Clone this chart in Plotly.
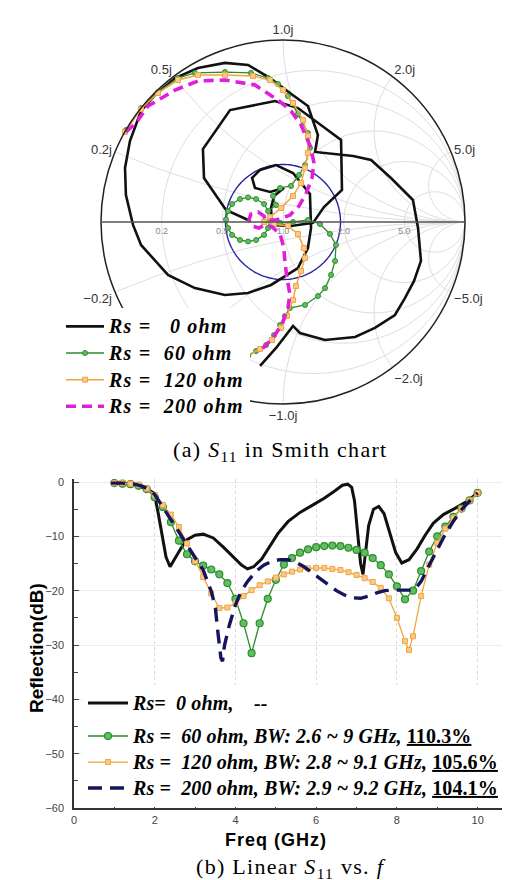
import numpy as np
import plotly.graph_objects as go

# ---------------- Smith chart data: reflection coefficient (Re, Im) ----------------
rs0_gr = [-0.126, -0.038, 0.055, 0.093, 0.231, 0.396, 0.505, 0.615, 0.670, 0.720, 0.758, 0.742, 0.714,
          0.593, 0.484, 0.385, 0.176, 0.192, 0.137, 0.038, -0.071, -0.192, -0.319, -0.467, -0.593,
          -0.703, -0.780, -0.841, -0.868, -0.863, -0.824, -0.780, -0.632, -0.484, -0.319, -0.192,
          -0.066, 0.082, 0.137, 0.154, 0.148, 0.055, -0.038, -0.126, -0.170, -0.154, -0.071, 0.005,
          -0.049, -0.066, -0.060, 0.044, 0.165, 0.225, 0.324, 0.319, 0.082, -0.044, -0.291, -0.440,
          -0.434, -0.313, -0.192]
rs0_gi = [-0.791, -0.692, -0.571, -0.610, -0.648, -0.632, -0.582, -0.511, -0.418, -0.324, -0.214, -0.033,
          0.121, 0.242, 0.341, 0.363, 0.385, 0.478, 0.637, 0.709, 0.791, 0.863, 0.874, 0.846, 0.791,
          0.698, 0.610, 0.445, 0.297, 0.148, -0.016, -0.126, -0.291, -0.363, -0.401, -0.390, -0.346,
          -0.253, -0.143, -0.033, 0.154, 0.269, 0.313, 0.286, 0.242, 0.187, 0.165, 0.187, 0.143,
          0.077, -0.016, -0.022, -0.005, 0.082, 0.176, 0.451, 0.626, 0.665, 0.615, 0.401, 0.242,
          0.066, 0.011]

rs60_gr = [-0.863, -0.780, -0.687, -0.577, -0.484, -0.319, -0.176, -0.082, -0.027, 0.027, 0.082, 0.137,
           0.148, 0.121, 0.088, 0.044, -0.016, -0.055, -0.038,
           -0.082, -0.104, -0.148, -0.192, -0.236, -0.280, -0.302, -0.313, -0.302, -0.280, -0.236,
           -0.192, -0.148, -0.104, -0.082, -0.071,
           -0.016, 0.055, 0.137, 0.203, 0.258, 0.291, 0.286, 0.264, 0.231, 0.192, 0.121, 0.038, 0.011,
           -0.016, -0.049, -0.093, -0.148, -0.192]
rs60_gi = [0.505, 0.626, 0.714, 0.791, 0.819, 0.824, 0.819, 0.791, 0.758, 0.692, 0.593, 0.489,
           0.407, 0.313, 0.258, 0.198, 0.187, 0.143, 0.093,
           0.060, 0.099, 0.126, 0.135, 0.126, 0.099, 0.060, 0.014, -0.033, -0.071, -0.099,
           -0.107, -0.099, -0.071, -0.033, 0.014,
           -0.005, 0.000, 0.011, -0.011, -0.066, -0.126, -0.214, -0.291, -0.363, -0.407, -0.456, -0.473,
           -0.516, -0.566, -0.621, -0.676, -0.709, -0.736]

rs120_gr = [-0.868, -0.780, -0.687, -0.577, -0.467, -0.319, -0.165, -0.071, 0.000, 0.055, 0.110, 0.137,
            0.137, 0.121, 0.099, 0.055, -0.011, -0.071, -0.104, -0.049, 0.027, 0.082, 0.115, 0.121,
            0.099, 0.071, 0.055, 0.022, -0.011, -0.060, -0.126, -0.203]
rs120_gi = [0.495, 0.621, 0.709, 0.780, 0.808, 0.808, 0.802, 0.780, 0.725, 0.654, 0.560, 0.473,
            0.379, 0.297, 0.214, 0.143, 0.077, 0.027, 0.000, -0.011, -0.022, -0.066, -0.143, -0.198,
            -0.269, -0.352, -0.429, -0.516, -0.582, -0.648, -0.698, -0.736]

rs200_gr = [-0.863, -0.808, -0.742, -0.593, -0.467, -0.319, -0.154, -0.027, 0.044, 0.099, 0.154, 0.170,
            0.159, 0.126, 0.088, 0.038, -0.038, -0.099, -0.104, -0.137, -0.176, -0.187, -0.170, -0.132,
            -0.099, -0.060, -0.016, 0.005, 0.011, 0.022, 0.038, 0.027, -0.005, -0.055, -0.126]
rs200_gi = [0.495, 0.544, 0.637, 0.725, 0.775, 0.780, 0.753, 0.670, 0.610, 0.533, 0.407, 0.324,
            0.242, 0.154, 0.088, 0.038, 0.011, 0.011, 0.033, 0.055, 0.044, 0.011, -0.022, -0.033,
            -0.016, -0.027, -0.066, -0.143, -0.225, -0.308, -0.396, -0.473, -0.560, -0.637, -0.709]

minus10db_gamma = 0.316   # |Γ| of the -10 dB circle drawn in blue

smith_real_ticks = [0.2, 0.5, 1.0, 2.0, 5.0]
smith_imag_ticks = [-5.0, -2.0, -1.0, -0.5, -0.2, 0.2, 0.5, 1.0, 2.0, 5.0]

# ---------------- Linear S11 data (GHz, dB) ----------------
f_rs0 = [0.95, 1.2, 1.5, 1.7, 1.85, 1.95, 2.0, 2.08, 2.18, 2.28, 2.38, 2.5, 2.65, 2.8, 3.0, 3.2, 3.45,
         3.7, 3.95, 4.15, 4.3, 4.45, 4.65, 4.85, 5.05, 5.3, 5.6, 5.9, 6.2, 6.45, 6.65, 6.78, 6.88, 6.95,
         7.02, 7.1, 7.16, 7.22, 7.3, 7.42, 7.55, 7.68, 7.82, 7.97, 8.12, 8.3, 8.5, 8.7, 8.9, 9.15, 9.45,
         9.75, 10.0]
s_rs0 = [-0.2, -0.2, -0.5, -1.0, -1.5, -1.9, -2.5, -5.5, -10.0, -13.8, -15.6, -14.0, -12.2, -10.6, -9.8,
         -9.6, -10.3, -12.0, -13.8, -15.3, -16.0, -15.6, -14.2, -11.8, -9.5, -7.3, -5.6, -4.3, -3.0, -1.7,
         -0.6, -0.4, -1.0, -3.5, -9.0, -15.0, -17.0, -13.0, -8.0, -5.0, -4.5, -5.8, -9.2, -13.0, -14.9,
         -14.3, -12.3, -9.8, -7.6, -6.0, -4.8, -3.5, -2.0]

f_rs60 = [1.0, 1.2, 1.4, 1.6, 1.8, 2.0, 2.2, 2.4, 2.6, 2.8, 3.0, 3.2, 3.4, 3.6, 3.8, 4.0, 4.2, 4.4, 4.6,
          4.8, 5.0, 5.2, 5.4, 5.6, 5.8, 6.0, 6.2, 6.4, 6.6, 6.8, 7.0, 7.2, 7.4, 7.6, 7.8, 8.0, 8.2, 8.4,
          8.6, 8.8, 9.0, 9.2, 9.4, 9.6, 9.8, 10.0]
s_rs60 = [-0.2, -0.3, -0.4, -0.7, -1.3, -2.8, -4.6, -7.4, -10.8, -13.3, -14.6, -15.4, -16.1, -17.0, -18.6,
          -21.5, -26.0, -31.5, -26.0, -21.5, -18.0, -15.2, -14.0, -13.0, -12.4, -12.0, -11.8, -11.7,
          -11.8, -12.1, -12.5, -13.0, -14.0, -15.3, -17.0, -19.2, -21.6, -20.0, -16.4, -12.8, -10.0, -8.2,
          -6.4, -4.9, -3.4, -2.0]

f_rs120 = [1.0, 1.2, 1.4, 1.6, 1.8, 2.0, 2.2, 2.4, 2.6, 2.8, 3.0, 3.2, 3.4, 3.6, 3.8, 4.0, 4.2, 4.4, 4.6,
           4.8, 5.0, 5.2, 5.4, 5.6, 5.8, 6.0, 6.2, 6.4, 6.6, 6.8, 7.0, 7.2, 7.4, 7.6, 7.8, 8.0, 8.2, 8.3,
           8.4, 8.6, 8.8, 9.0, 9.2, 9.4, 9.6, 9.8, 10.0]
s_rs120 = [-0.2, -0.2, -0.3, -0.5, -1.2, -2.4, -4.2, -6.0, -8.3, -11.3, -14.6, -17.5, -20.5, -23.2, -23.1,
           -22.3, -21.0, -19.9, -19.0, -18.3, -17.6, -17.0, -16.5, -16.1, -15.9, -15.8, -15.8, -16.0,
           -16.2, -16.6, -17.1, -17.7, -18.4, -19.5, -21.4, -25.0, -29.3, -30.9, -28.4, -21.0, -15.2,
           -11.2, -8.6, -6.6, -4.9, -3.4, -2.0]

f_rs200 = [0.92, 1.2, 1.5, 1.7, 1.9, 2.0, 2.2, 2.4, 2.6, 2.8, 3.0, 3.2, 3.4, 3.5, 3.57, 3.64, 3.68, 3.73,
           3.85, 4.0, 4.15, 4.3, 4.5, 4.7, 4.9, 5.1, 5.3, 5.5, 5.7, 5.9, 6.1, 6.3, 6.5, 6.7, 6.9, 7.1,
           7.3, 7.5, 7.7, 7.9, 8.1, 8.3, 8.45, 8.6, 8.8, 9.0, 9.2, 9.4, 9.6, 9.8, 10.0]
s_rs200 = [-0.2, -0.2, -0.4, -0.8, -1.6, -2.3, -4.6, -6.8, -9.2, -11.6, -13.8, -16.2, -20.1, -23.0, -28.0,
           -32.4, -33.0, -30.0, -26.3, -22.6, -20.0, -18.3, -16.5, -15.3, -14.6, -14.3, -14.3, -14.8,
           -15.6, -16.7, -17.9, -19.0, -20.0, -20.8, -21.3, -21.4, -21.0, -20.4, -20.0, -19.9, -19.9,
           -19.9, -19.7, -18.3, -15.3, -12.3, -9.6, -7.2, -5.1, -3.5, -2.0]

# ---------------- styling ----------------
BLACK = "#111111"
GREEN = "#2e8b2e"
GREEN_FILL = "#5fbf5f"
ORANGE = "#f0a540"
ORANGE_FILL = "#f8c98a"
MAGENTA = "#e020d8"
NAVY = "#15155f"
BLUE = "#2323a0"
SERIF = "Liberation Serif"
SANS = "Liberation Sans"


def to_z(gr, gi):
    g = np.array(gr) + 1j * np.array(gi)
    z = (1 + g) / (1 - g)
    return z.real, z.imag


def legend_text(body, size, spacing):
    return (f'<span style="font-size:{size}px;letter-spacing:{spacing}px">'
            f'<b><i>{body}</i></b></span>')


fig = go.Figure()

# -10 dB circle
theta = np.linspace(0, 2 * np.pi, 181)
zr, zi = to_z(minus10db_gamma * np.cos(theta), minus10db_gamma * np.sin(theta))
fig.add_trace(go.Scattersmith(real=zr, imag=zi, mode="lines", line=dict(color=BLUE, width=1.4),
                              showlegend=False, hoverinfo="skip"))

sp = "\u00a0"
smith_series = [
    (rs0_gr, rs0_gi, f"Rs{sp}={sp}{sp}{sp}0 ohm", dict(mode="lines", line=dict(color=BLACK, width=2.6))),
    (rs60_gr, rs60_gi, f"Rs{sp}={sp}{sp}60 ohm",
     dict(mode="lines+markers", line=dict(color=GREEN, width=1.3),
          marker=dict(symbol="circle", size=5, color=GREEN_FILL, line=dict(color=GREEN, width=1)))),
    (rs120_gr, rs120_gi, f"Rs{sp}={sp}{sp}120 ohm",
     dict(mode="lines+markers", line=dict(color=ORANGE, width=1.5),
          marker=dict(symbol="square", size=5, color=ORANGE_FILL, line=dict(color=ORANGE, width=1)))),
    (rs200_gr, rs200_gi, f"Rs{sp}={sp}{sp}200 ohm",
     dict(mode="lines", line=dict(color=MAGENTA, width=3.6, dash="10px,6px"))),
]
for gr, gi, name, style in smith_series:
    zr, zi = to_z(gr, gi)
    fig.add_trace(go.Scattersmith(real=zr, imag=zi, name=legend_text(name, 20, 1.2),
                                  legend="legend", hoverinfo="skip", **style))

# linear plot
lin_series = [
    (f_rs0, s_rs0, f"Rs={sp}{sp}0 ohm,{sp}{sp}{sp}{sp}--", "g0",
     dict(mode="lines", line=dict(color=BLACK, width=3))),
    (f_rs60, s_rs60, f"Rs{sp}={sp}{sp}60 ohm, BW: 2.6 ~ 9 GHz, </i><u>110.3%</u><i>", "g1",
     dict(mode="lines+markers", line=dict(color=GREEN, width=1.3),
          marker=dict(symbol="circle", size=7, color=GREEN_FILL, line=dict(color=GREEN, width=1.2)))),
    (f_rs120, s_rs120, f"Rs{sp}={sp}{sp}120 ohm, BW: 2.8 ~ 9.1 GHz, </i><u>105.6%</u><i>", "g1",
     dict(mode="lines+markers", line=dict(color=ORANGE, width=1.3),
          marker=dict(symbol="square", size=5, color=ORANGE_FILL, line=dict(color=ORANGE, width=1)))),
    (f_rs200, s_rs200, f"Rs{sp}={sp}{sp}200 ohm, BW: 2.9 ~ 9.2 GHz, </i><u>104.1%</u><i>", "g1",
     dict(mode="lines", line=dict(color=NAVY, width=3.4, dash="14px,8px"))),
]
for fx, sy, name, grp, style in lin_series:
    fig.add_trace(go.Scatter(x=fx, y=sy, name=legend_text(name, 20, 0.12), legend="legend2",
                             legendgroup=grp, xaxis="x", yaxis="y", hoverinfo="skip", **style))

W, H = 510, 880
cx, cy, R = 275, 214, 182   # smith disc centre / radius in pixels

fig.update_layout(
    width=W, height=H,
    margin=dict(l=0, r=0, t=0, b=0),
    paper_bgcolor="white", plot_bgcolor="white",
    smith=dict(
        domain=dict(x=[(cx - R) / W, (cx + R) / W], y=[1 - (cy + R) / H, 1 - (cy - R) / H]),
        bgcolor="white",
        realaxis=dict(tickvals=smith_real_ticks, tickformat=".1f", side="bottom", ticks="",
                      tickangle=0,
                      gridcolor="#dedede", gridwidth=1, linecolor="#555555", linewidth=1.6,
                      tickfont=dict(family=SANS, size=9, color="#888888")),
        imaginaryaxis=dict(tickvals=smith_imag_ticks, tickformat=".1f", ticksuffix="j", ticks="",
                           gridcolor="#dedede", gridwidth=1, linecolor="#222222", linewidth=1.5,
                           tickfont=dict(family=SANS, size=13, color="#333333")),
    ),
    xaxis=dict(domain=[66 / W, 1.0], range=[0, 11], anchor="y", automargin=False,
               tickvals=[0, 2, 4, 6, 8, 10], ticks="inside", ticklen=5, tickcolor="#444",
               minor=dict(dtick=1, ticks="inside", ticklen=4, tickcolor="#444", showgrid=False),
               showline=True, linecolor="#333", linewidth=1.5,
               showgrid=True, gridcolor="#d8d8d8", griddash="dot", gridwidth=1,
               zeroline=False, tickfont=dict(family=SANS, size=11, color="#444"),
               ticklabelstandoff=1),
    yaxis=dict(domain=[1 - 800 / H, 1 - (474 - 0.6 * 326 / 60) / H], range=[-60, 0.6], anchor="x",
               automargin=False,
               tickvals=[0, -10, -20, -30, -40, -50, -60], ticks="inside", ticklen=5, tickcolor="#444",
               minor=dict(dtick=5, ticks="inside", ticklen=4, tickcolor="#444", showgrid=False),
               showline=True, linecolor="#333", linewidth=1.5,
               showgrid=True, gridcolor="#ececec", gridwidth=1,
               zeroline=False, tickfont=dict(family=SANS, size=11, color="#444"),
               ticklabelstandoff=6),
    legend=dict(x=53 / W, xanchor="left", y=1 - 300 / H, yanchor="top",
                bgcolor="white", borderwidth=0, itemwidth=38,
                font=dict(family=SERIF, size=18.2, color="black"), tracegroupgap=0,
                itemclick=False),
    legend2=dict(x=75 / W, xanchor="left", y=1 - 677 / H, yanchor="top",
                 bgcolor="white", borderwidth=0, itemwidth=40, traceorder="grouped",
                 font=dict(family=SERIF, size=17.7, color="black"), tracegroupgap=7,
                 itemclick=False),
    shapes=[
        # hide the automatic infinity label at the right end of the real axis
        dict(type="rect", xref="paper", yref="paper", layer="above",
             x0=459.5 / W, x1=488 / W, y0=1 - 227 / H, y1=1 - 201 / H,
             fillcolor="white", line=dict(width=0)),
    ],
    annotations=[
        dict(text='<span style="letter-spacing:1.3px">(a) <i>S</i><sub>11</sub> in Smith chart</span>',
             x=272 / W, y=1 - 443 / H, xref="paper", yref="paper", xanchor="center", yanchor="middle",
             showarrow=False, font=dict(family=SERIF, size=22, color="black")),
        dict(text='<span style="letter-spacing:1.3px">(b) Linear <i>S</i><sub>11</sub> vs. <i>f</i></span>',
             x=283 / W, y=1 - 860 / H, xref="paper", yref="paper", xanchor="center", yanchor="middle",
             showarrow=False, font=dict(family=SERIF, size=22, color="black")),
        dict(text='<span style="letter-spacing:1px"><b>Freq (GHz)</b></span>', x=5, y=1 - 832 / H,
             xref="x", yref="paper", xanchor="center", yanchor="middle", showarrow=False,
             font=dict(family=SANS, size=18, color="black")),
        dict(text="<b>Reflection(dB)</b>", x=28 / W, y=1 - 640 / H, xref="paper", yref="paper",
             xanchor="center", yanchor="middle",
             showarrow=False, textangle=-90, font=dict(family=SANS, size=19, color="black")),
    ],
)

fig.write_html("out.html")
